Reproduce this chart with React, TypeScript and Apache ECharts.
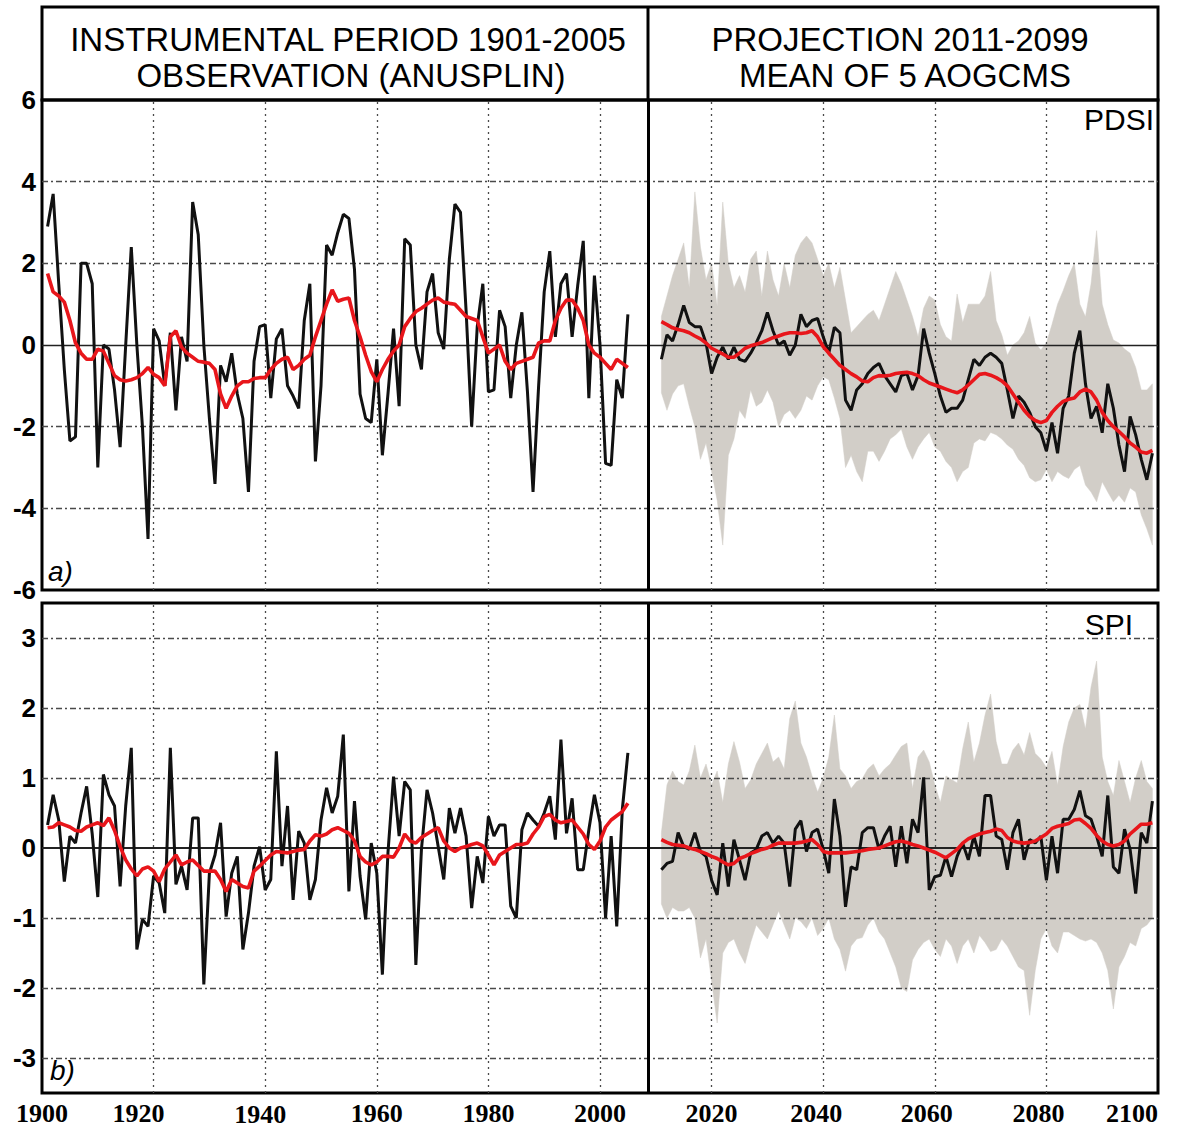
import React, { useEffect, useRef } from "react";
import * as echarts from "echarts";

// ---------- axis / tick definitions ----------
const X_MIN = 1900;
const X_MAX = 2100;
const X_STEP = 20;
const VERTICAL_GRID_YEARS = [1920, 1940, 1960, 1980, 2000, 2020, 2040, 2060, 2080];
const PERIOD_SPLIT_YEAR = 2008.7;
const PDSI_TICKS = [-6, -4, -2, 0, 2, 4, 6];
const SPI_TICKS = [-3, -2, -1, 0, 1, 2, 3];
const SPI_LIMIT = 3.5;

const OBS_START_YEAR = 1901;
const PROJ_START_YEAR = 2011;

// ---------- header / labels ----------
const HEADER_LEFT = ["INSTRUMENTAL PERIOD 1901-2005", "OBSERVATION (ANUSPLIN)"];
const HEADER_RIGHT = ["PROJECTION 2011-2099", "MEAN OF 5 AOGCMS"];
const PANEL_NAMES = ["PDSI", "SPI"];
const PANEL_LETTERS = ["a)", "b)"];

// ---------- PDSI ----------
const pdsiObs = [
  2.9, 3.7, 1.5, -0.6, -2.35, -2.25, 2.0, 2.0, 1.5, -3.0,
  0.0, -0.1, -1.1, -2.5, 0.0, 2.4, 0.0, -2.0, -4.75, 0.4,
  0.1, -1.0, 0.3, -1.6, 0.2, -0.4, 3.5, 2.7, 0.0, -1.8,
  -3.4, -0.5, -0.9, -0.2, -1.2, -1.8, -3.6, -0.4, 0.45, 0.5,
  -1.3, 0.15, 0.4, -1.0, -1.25, -1.55, 0.6, 1.5, -2.85, -1.0,
  2.45, 2.2, 2.75, 3.2, 3.1, 1.85, -1.2, -1.8, -1.9, -0.35,
  -2.7, -1.2, 0.4, -1.5, 2.6, 2.45, 0.0, -0.6, 1.3, 1.75,
  0.3, -0.1, 2.1, 3.45, 3.25, 0.85, -2.0, 0.45, 1.5, -1.15,
  -1.1, 0.85, 0.45, -1.3, 0.0, 0.8, -1.15, -3.6, -1.0, 1.3,
  2.3, 0.2, 1.5, 1.75, 0.2, 1.45, 2.55, -1.3, 1.7, 0.0,
  -2.9, -2.95, -0.85, -1.3, 0.75,
];
const pdsiObsSmooth = [
  1.75, 1.3, 1.2, 1.05, 0.6, 0.05, -0.2, -0.35, -0.35, -0.1,
  -0.15, -0.45, -0.75, -0.85, -0.88, -0.85, -0.8, -0.7, -0.55, -0.72,
  -0.8, -1.0, 0.2, 0.35, -0.05, -0.2, -0.3, -0.4, -0.42, -0.45,
  -0.6, -1.2, -1.55, -1.25, -1.0, -0.9, -0.9, -0.82, -0.8, -0.8,
  -0.6, -0.45, -0.35, -0.3, -0.6, -0.5, -0.35, -0.25, 0.2, 0.6,
  1.0, 1.35, 1.07, 1.12, 1.15, 0.6, 0.2, -0.25, -0.65, -0.9,
  -0.6, -0.35, -0.15, 0.0, 0.45, 0.65, 0.82, 0.9, 1.0, 1.1,
  1.15, 1.05, 1.02, 1.0, 0.85, 0.7, 0.65, 0.6, 0.2, -0.2,
  -0.1, 0.0, -0.4, -0.6, -0.45, -0.4, -0.35, -0.3, 0.05, 0.1,
  0.1, 0.6, 0.9, 1.1, 1.1, 0.9, 0.6, 0.0, -0.2, -0.3,
  -0.45, -0.6, -0.35, -0.45, -0.55,
];
const pdsiProj = [
  -0.35, 0.25, 0.1, 0.5, 0.97, 0.55, 0.45, 0.45, 0.05, -0.7,
  -0.3, -0.05, -0.35, -0.05, -0.35, -0.4, -0.2, 0.05, 0.35, 0.8,
  0.35, 0.0, 0.1, -0.25, 0.0, 0.75, 0.45, 0.6, 0.65, 0.2,
  -0.2, 0.43, 0.3, -1.35, -1.6, -1.1, -0.95, -0.7, -0.55, -0.45,
  -0.75, -0.95, -1.15, -0.75, -0.7, -1.1, -0.75, 0.4, -0.2, -0.7,
  -1.25, -1.65, -1.55, -1.55, -1.35, -0.85, -0.35, -0.5, -0.3, -0.2,
  -0.3, -0.45, -1.1, -1.8, -1.25, -1.4, -1.65, -2.0, -2.15, -2.6,
  -1.9, -2.65, -1.55, -1.25, -0.2, 0.35, -0.95, -1.8, -1.5, -2.15,
  -0.95, -1.55, -2.45, -3.1, -1.75, -2.2, -2.8, -3.3, -2.65,
];
const pdsiProjSmooth = [
  0.57, 0.5, 0.42, 0.38, 0.35, 0.3, 0.22, 0.15, 0.05, -0.08,
  -0.15, -0.22, -0.3, -0.3, -0.2, -0.08, -0.02, 0.02, 0.06, 0.12,
  0.18, 0.22, 0.27, 0.3, 0.3, 0.28, 0.3, 0.35, 0.2, -0.04,
  -0.2, -0.35, -0.5, -0.6, -0.7, -0.78, -0.88, -0.9, -0.8, -0.75,
  -0.76, -0.74, -0.7, -0.68, -0.67, -0.7, -0.75, -0.85, -0.93, -0.98,
  -1.03, -1.08, -1.13, -1.17, -1.1, -0.98, -0.85, -0.72, -0.7, -0.74,
  -0.8, -0.88, -1.0, -1.2, -1.4, -1.6, -1.75, -1.85, -1.9, -1.85,
  -1.65, -1.5, -1.38, -1.33, -1.3, -1.15, -1.08, -1.15, -1.35, -1.65,
  -1.85, -2.0, -2.12, -2.25, -2.4, -2.5, -2.62, -2.65, -2.58,
];
const pdsiProjUpper = [
  0.7, 1.2, 1.7, 2.1, 2.5, 1.4, 3.75, 2.4, 1.6, 2.0,
  0.95, 3.5, 2.0, 1.4, 1.7, 1.3, 2.1, 2.3, 1.2, 2.3,
  1.6, 1.2, 2.0, 1.4, 2.2, 2.5, 2.67, 2.5, 2.1, 1.7,
  2.0, 1.4, 1.9, 1.1, 0.3, 0.45, 0.6, 0.75, 0.85, 0.6,
  1.0, 1.4, 1.8, 1.5, 1.1, 0.7, 0.2, 0.9, 1.2, 1.1,
  0.5, 0.2, 0.1, 1.25, 0.55, 1.0, 1.0, 1.0, 1.2, 1.8,
  0.6, 0.25, -0.25, 0.0, 0.1, 0.3, 0.7, 0.05, -0.12, 0.05,
  0.5, 1.0, 1.33, 1.7, 2.0, 1.0, 0.69, 1.5, 2.8, 1.0,
  0.5, 0.12, 0.05, -0.1, -0.2, -0.55, -1.1, -1.1, -0.95,
];
const pdsiProjLower = [
  -1.17, -1.6, -1.2, -1.0, -0.95, -1.5, -2.0, -2.8, -2.4, -3.1,
  -3.8, -4.9, -2.7, -2.3, -1.6, -1.8, -1.1, -1.5, -1.4, -1.1,
  -1.4, -2.0, -1.7, -1.6, -1.8, -1.6, -1.25, -1.35, -1.0, -0.78,
  -0.85, -1.3, -1.8, -3.0, -2.7, -3.1, -3.35, -2.6, -2.6, -2.85,
  -2.6, -2.3, -2.2, -2.06, -2.5, -2.8, -2.5, -2.3, -2.14, -2.5,
  -2.6, -2.85, -3.0, -3.35, -3.1, -3.0, -2.4, -2.3, -2.35, -2.14,
  -2.2, -2.3, -2.45, -2.55, -2.8, -2.95, -3.25, -3.35, -3.3, -3.05,
  -3.35, -3.1, -3.2, -3.27, -3.05, -2.95, -3.43, -3.6, -3.84, -3.35,
  -3.6, -3.84, -3.68, -3.85, -3.5, -3.6, -4.16, -4.5, -4.9,
];

// ---------- SPI ----------
const spiObs = [
  0.33, 0.76, 0.4, -0.48, 0.17, 0.07, 0.5, 0.88, 0.2, -0.7,
  1.05, 0.76, 0.6, -0.55, 0.6, 1.43, -1.45, -1.02, -1.12, -0.4,
  -0.5, -0.93, 1.43, -0.52, -0.26, -0.6, 0.43, 0.43, -1.95, -0.36,
  -0.1, 0.36, -0.98, -0.36, -0.12, -1.45, -0.93, -0.26, 0.02, -0.6,
  -0.45, 1.38, -0.26, 0.6, -0.74, 0.24, 0.07, -0.74, -0.45, 0.4,
  0.86, 0.5, 0.74, 1.62, -0.62, 0.67, -0.4, -1.02, 0.07, -0.36,
  -1.81, -0.07, 1.02, 0.17, 0.95, 0.83, -1.67, -0.02, 0.83, 0.5,
  0.02, -0.45, 0.57, 0.21, 0.57, 0.17, -0.86, -0.12, -0.5, 0.45,
  0.17, 0.33, 0.33, -0.83, -1.0, 0.26, 0.5, 0.4, 0.31, 0.5,
  0.74, 0.12, 1.55, 0.21, 0.71, -0.31, -0.31, 0.26, 0.76, 0.36,
  -1.0, 0.17, -1.12, 0.55, 1.36,
];
const spiObsSmooth = [
  0.29, 0.3, 0.36, 0.33, 0.3, 0.25, 0.24, 0.3, 0.33, 0.36,
  0.32, 0.43, 0.25, 0.02, -0.17, -0.3, -0.4, -0.3, -0.27, -0.33,
  -0.48, -0.3, -0.2, -0.1, -0.24, -0.2, -0.17, -0.25, -0.33, -0.33,
  -0.33, -0.45, -0.62, -0.45, -0.5, -0.55, -0.57, -0.33, -0.26, -0.18,
  -0.1, -0.05, -0.06, -0.07, -0.05, -0.03, -0.02, 0.1, 0.19, 0.17,
  0.2, 0.26, 0.29, 0.25, 0.21, 0.1, -0.12, -0.2, -0.24, -0.2,
  -0.12, -0.12, -0.13, 0.0, 0.2, 0.1, 0.07, 0.15, 0.2, 0.25,
  0.29, 0.1, 0.0, -0.05, 0.0, 0.02, 0.05, 0.07, 0.03, -0.1,
  -0.24, -0.1, -0.05, 0.0, 0.05, 0.05, 0.07, 0.2, 0.3, 0.45,
  0.48, 0.4, 0.36, 0.38, 0.4, 0.3, 0.2, 0.05, -0.02, 0.1,
  0.3, 0.4, 0.46, 0.52, 0.64,
];
const spiProj = [
  -0.31, -0.22, -0.19, 0.22, 0.02, -0.02, 0.22, -0.05, -0.12, -0.46,
  -0.67, 0.07, -0.55, 0.12, -0.17, -0.46, -0.07, -0.02, 0.17, 0.22,
  0.07, 0.17, 0.07, -0.55, 0.27, 0.39, -0.05, 0.22, 0.27, -0.02,
  -0.36, 0.7, 0.17, -0.84, -0.27, -0.31, 0.22, 0.29, 0.29, -0.02,
  0.17, 0.31, -0.27, 0.31, -0.22, 0.41, 0.22, 1.01, -0.6, -0.41,
  -0.39, -0.12, -0.41, -0.12, 0.07, -0.17, 0.17, -0.12, 0.75, 0.75,
  0.17, 0.12, -0.31, 0.22, 0.41, -0.17, 0.12, 0.07, 0.17, -0.46,
  0.17, -0.36, 0.41, 0.41, 0.55, 0.82, 0.46, 0.41, 0.17, -0.12,
  0.75, -0.27, -0.36, 0.27, -0.02, -0.65, 0.22, 0.07, 0.67,
];
const spiProjSmooth = [
  0.12, 0.08, 0.05, 0.04, 0.03, 0.0, -0.02, -0.05, -0.08, -0.12,
  -0.15, -0.2, -0.24, -0.22, -0.15, -0.12, -0.08, -0.05, -0.02, 0.0,
  0.04, 0.07, 0.07, 0.07, 0.07, 0.08, 0.1, 0.12, 0.05, -0.05,
  -0.07, -0.07, -0.07, -0.07, -0.06, -0.05, -0.04, -0.02, -0.01, 0.0,
  0.03, 0.06, 0.09, 0.1, 0.08, 0.05, 0.03, 0.0, -0.03, -0.06,
  -0.1, -0.14, -0.08, -0.02, 0.07, 0.13, 0.17, 0.2, 0.22, 0.24,
  0.27, 0.25, 0.15, 0.1, 0.08, 0.07, 0.08, 0.1, 0.15, 0.2,
  0.28, 0.31, 0.33, 0.35, 0.4, 0.41, 0.35, 0.28, 0.18, 0.1,
  0.05, 0.03, 0.05, 0.1, 0.2, 0.27, 0.34, 0.34, 0.36,
];
const spiProjUpper = [
  0.22, 0.9, 1.1, 0.95, 0.9, 1.1, 1.47, 1.0, 1.2, 0.9,
  1.1, 0.65, 1.2, 1.52, 1.23, 0.85, 0.97, 1.2, 1.35, 1.5,
  1.23, 1.3, 1.13, 1.85, 2.1, 1.5, 1.3, 1.03, 0.8, 1.0,
  1.3, 1.9, 1.13, 1.03, 0.85, 0.95, 0.99, 1.13, 1.2, 1.03,
  1.13, 1.2, 1.33, 1.45, 1.5, 0.85, 1.3, 1.4, 1.23, 0.9,
  0.65, 1.03, 0.98, 0.93, 1.42, 1.8, 1.23, 1.5, 1.9, 2.2,
  1.52, 1.2, 1.2, 1.4, 1.5, 1.33, 1.65, 1.35, 1.27, 1.15,
  1.38, 0.9, 1.45, 1.8, 2.0, 2.05, 1.7, 2.3, 2.67, 1.3,
  0.95, 0.75, 1.25, 0.95, 0.65, 1.0, 1.25, 0.95, 0.85,
];
const spiProjLower = [
  -0.8, -1.0, -0.85, -0.9, -0.9, -0.85, -1.0, -1.57, -1.3, -1.9,
  -2.5, -1.5, -1.35, -1.3, -1.5, -1.65, -1.35, -1.1, -1.2, -1.3,
  -1.1, -0.9, -1.1, -1.3, -1.0, -1.05, -1.15, -1.0, -1.25, -1.15,
  -1.0, -1.3, -1.45, -1.76, -1.4, -1.3, -1.28, -1.1, -1.0, -1.2,
  -1.3, -1.5, -1.7, -2.0, -2.05, -1.6, -1.45, -1.35, -1.3, -1.45,
  -1.55, -1.3, -1.4, -1.65, -1.4, -1.3, -1.5, -1.25, -1.35, -1.48,
  -1.45, -1.3, -1.4, -1.55, -1.7, -1.75, -2.39, -1.75, -1.3, -1.15,
  -1.4, -1.5, -1.2, -1.2, -1.25, -1.3, -1.33, -1.3, -1.35, -1.5,
  -1.75, -2.3, -1.7, -1.55, -1.35, -1.4, -1.15, -1.1, -1.0,
];

// ---------- styles ----------
const BLACK = "#111111";
const RED = "#e8161b";
const BAND = "#d2cec8";
const GRID_COLOR = "#4a4a4a";

// small per-label offsets of the year labels (px): [dx, dy]
const X_LABEL_OFFSETS: Record<number, [number, number]> = {
  1920: [-15, 0],
  1940: [-5, 2],
  2040: [-7, 0],
  2060: [-8, 0],
  2080: [-8, 0],
};

const toPairs = (start: number, arr: number[]) => arr.map((v, i) => [start + i, v]);

function gridMarkLine(hLines: number[], zeroWidth: number) {
  return {
    silent: true,
    symbol: ["none", "none"],
    label: { show: false },
    emphasis: { disabled: true },
    z: 5,
    animation: false,
    data: [
      ...VERTICAL_GRID_YEARS.map((y) => ({
        xAxis: y,
        lineStyle: { color: GRID_COLOR, width: 1.3, type: [2, 4] },
      })),
      ...hLines.map((v) => ({
        yAxis: v,
        lineStyle: { color: GRID_COLOR, width: 1.3, type: [6, 3, 2, 3] },
      })),
      { yAxis: 0, lineStyle: { color: "#222", width: zeroWidth, type: "solid" } },
      { xAxis: PERIOD_SPLIT_YEAR, lineStyle: { color: "#000", width: 3, type: "solid" } },
    ],
  };
}

function bandSeries(idx: number, upper: number[], lower: number[]) {
  return {
    type: "custom",
    xAxisIndex: idx,
    yAxisIndex: idx,
    silent: true,
    animation: false,
    clip: true,
    z: 1,
    data: upper.map((u, i) => [PROJ_START_YEAR + i, lower[i], u]),
    encode: { x: 0, y: [1, 2] },
    renderItem: (params: any, api: any) => {
      if (params.dataIndex !== 0) return null;
      const top = upper.map((u, i) => api.coord([PROJ_START_YEAR + i, u]));
      const bottom = lower.map((l, i) => api.coord([PROJ_START_YEAR + i, l])).reverse();
      return {
        type: "polygon",
        shape: { points: top.concat(bottom) },
        style: { fill: BAND, stroke: BAND, lineWidth: 0.5 },
        silent: true,
      };
    },
  };
}

function panelSeries(
  idx: number,
  obs: number[],
  obsSmooth: number[],
  proj: number[],
  projSmooth: number[],
  upper: number[],
  lower: number[],
  hLines: number[],
  zeroWidth: number
) {
  const common = { xAxisIndex: idx, yAxisIndex: idx, symbol: "none", showSymbol: false, silent: true, animation: false };
  return [
    bandSeries(idx, upper, lower),
    {
      ...common,
      type: "line",
      data: toPairs(OBS_START_YEAR, obs),
      lineStyle: { color: BLACK, width: 3 },
      z: 10,
      markLine: gridMarkLine(hLines, zeroWidth),
    },
    {
      ...common,
      type: "line",
      data: toPairs(PROJ_START_YEAR, proj),
      lineStyle: { color: BLACK, width: 3 },
      z: 10,
    },
    {
      ...common,
      type: "line",
      data: toPairs(OBS_START_YEAR, obsSmooth),
      lineStyle: { color: RED, width: 3.6 },
      z: 11,
    },
    {
      ...common,
      type: "line",
      data: toPairs(PROJ_START_YEAR, projSmooth),
      lineStyle: { color: RED, width: 3.6 },
      z: 11,
    },
  ];
}

const yLabelStyle = {
  color: "#000",
  fontFamily: "Liberation Sans",
  fontWeight: "bold",
  fontSize: 26,
  margin: 6,
};

const xLabelFont = {
  color: "#000",
  fontFamily: "Liberation Serif",
  fontWeight: "bold",
  fontSize: 26,
  lineHeight: 26,
};

const xLabelRich: Record<string, any> = { n: { ...xLabelFont } };
Object.keys(X_LABEL_OFFSETS).forEach((k) => {
  const [dx, dy] = X_LABEL_OFFSETS[Number(k)];
  xLabelRich["y" + k] = {
    ...xLabelFont,
    padding: [Math.max(dy, 0), dx < 0 ? -2 * dx : 0, 0, dx > 0 ? 2 * dx : 0],
  };
});

const headerFont = '33px "Liberation Sans", Arial, sans-serif';

function headerText(text: string, x: number, y: number) {
  return {
    type: "text",
    x,
    y,
    style: {
      text,
      font: headerFont,
      fill: "#000",
      align: "center",
      verticalAlign: "middle",
      textAlign: "center",
      textVerticalAlign: "middle",
    },
    z: 20,
  };
}

function cornerText(text: string, x: number, y: number, align: string, italic: boolean, size: number) {
  return {
    type: "text",
    x,
    y,
    style: {
      text,
      font: (italic ? "italic " : "") + size + 'px "Liberation Sans", Arial, sans-serif',
      fill: "#000",
      align,
      verticalAlign: "middle",
      textAlign: align,
      textVerticalAlign: "middle",
    },
    z: 20,
  };
}

export default function App() {
  const ref = useRef<HTMLDivElement>(null);

  useEffect(() => {
    document.body.style.margin = "0";
    const chart = echarts.init(ref.current!, null, { renderer: "svg" });

    const gridBase = {
      left: 42,
      width: 1116,
      height: 490,
      show: true,
      borderColor: "#000",
      borderWidth: 3,
      backgroundColor: "transparent",
      containLabel: false,
      outerBoundsMode: "none",
    };

    const option = {
      animation: false,
      backgroundColor: "#ffffff",
      grid: [
        { ...gridBase, top: 100 },
        { ...gridBase, top: 603 },
      ],
      xAxis: [
        {
          type: "value",
          gridIndex: 0,
          min: X_MIN,
          max: X_MAX,
          interval: X_STEP,
          axisLine: { show: false },
          axisTick: { show: false },
          axisLabel: { show: false },
          splitLine: { show: false },
        },
        {
          type: "value",
          gridIndex: 1,
          min: X_MIN,
          max: X_MAX,
          interval: X_STEP,
          axisLine: { show: false },
          axisTick: { show: false },
          splitLine: { show: false },
          axisLabel: {
            ...xLabelFont,
            margin: 7,
            showMinLabel: true,
            showMaxLabel: true,
            alignMaxLabel: "right",
            rich: xLabelRich,
            formatter: (v: number) =>
              X_LABEL_OFFSETS[v] ? `{y${v}|${v}}` : `{n|${v}}`,
          },
        },
      ],
      yAxis: [
        {
          type: "value",
          gridIndex: 0,
          min: PDSI_TICKS[0],
          max: PDSI_TICKS[PDSI_TICKS.length - 1],
          interval: 2,
          axisLine: { show: false },
          axisTick: { show: false },
          splitLine: { show: false },
          axisLabel: { ...yLabelStyle, showMinLabel: true, showMaxLabel: true, formatter: (v: number) => String(v) },
        },
        {
          type: "value",
          gridIndex: 1,
          min: -SPI_LIMIT,
          max: SPI_LIMIT,
          interval: 0.5,
          axisLine: { show: false },
          axisTick: { show: false },
          splitLine: { show: false },
          axisLabel: {
            ...yLabelStyle,
            formatter: (v: number) => (SPI_TICKS.indexOf(v) >= 0 ? String(v) : ""),
          },
        },
      ],
      series: [
        ...panelSeries(
          0,
          pdsiObs,
          pdsiObsSmooth,
          pdsiProj,
          pdsiProjSmooth,
          pdsiProjUpper,
          pdsiProjLower,
          PDSI_TICKS.filter((v) => v !== 0 && Math.abs(v) < 6),
          1.4
        ),
        ...panelSeries(
          1,
          spiObs,
          spiObsSmooth,
          spiProj,
          spiProjSmooth,
          spiProjUpper,
          spiProjLower,
          SPI_TICKS.filter((v) => v !== 0),
          2.2
        ),
      ],
      graphic: [
        {
          type: "rect",
          shape: { x: 42, y: 7, width: 1116, height: 93 },
          style: { fill: "none", stroke: "#000", lineWidth: 3 },
          z: 20,
        },
        {
          type: "line",
          shape: { x1: 648, y1: 7, x2: 648, y2: 100 },
          style: { stroke: "#000", lineWidth: 3 },
          z: 20,
        },
        headerText(HEADER_LEFT[0], 348, 39),
        headerText(HEADER_LEFT[1], 351, 75),
        headerText(HEADER_RIGHT[0], 900, 39),
        headerText(HEADER_RIGHT[1], 905, 75),
        cornerText(PANEL_NAMES[0], 1154, 119, "right", false, 30),
        cornerText(PANEL_NAMES[1], 1133, 624, "right", false, 30),
        cornerText(PANEL_LETTERS[0], 48, 571, "left", true, 28),
        cornerText(PANEL_LETTERS[1], 50, 1070, "left", true, 28),
      ],
    };

    chart.setOption(option as any);
    return () => chart.dispose();
  }, []);

  return <div ref={ref} style={{ width: 1179, height: 1130 }} />;
}
